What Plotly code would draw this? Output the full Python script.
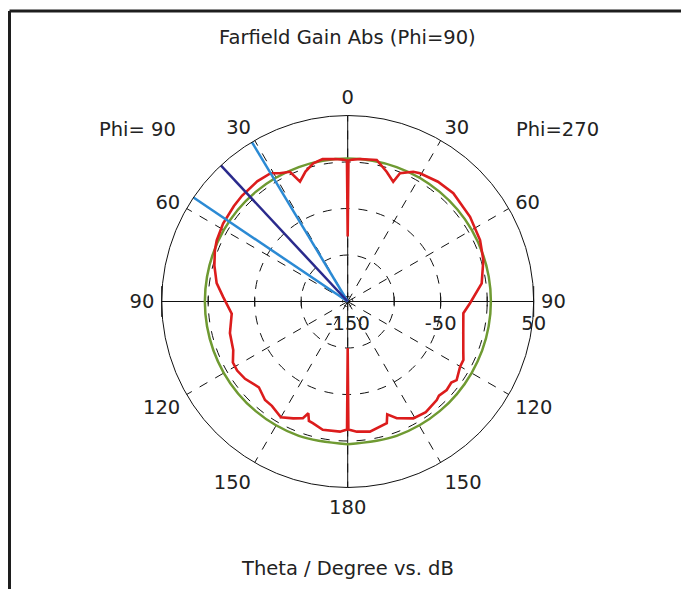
import numpy as np
import plotly.graph_objects as go

# Polar cut of the farfield gain, theta in degrees, gain in dB
theta_phi90 = [0, 0.3, 2, 5, 10, 14, 18, 21.7, 24, 28, 31, 37, 45, 50, 58, 65, 69, 75,
               82, 88, 96, 105, 113, 118, 122, 127, 134, 140, 144, 150, 155, 159,
               160.6, 162, 164, 169, 176.6, 179.7, 180]
gain_phi90 = [-80, 1.5, 2.7, 3.8, 5.5, 3.1, -3.1, -11.3, 2.7, 6.1, 10.9, 11.7, 10.8,
              9.7, 8.0, 5.4, 3.0, -1.6, -7.7, -16.1, -24.6, -18.9, -16.3, -10.2, -9.8,
              -11.8, -17.2, -11.7, -11.3, -6.3, -11.3, -15.6, -22.6, -15.0, -13.9,
              -9.4, -9.8, -12.4, -100]

theta_phi270 = [0, 0.3, 2, 5, 11.6, 16.7, 20.8, 22.2, 26.8, 29.4, 37, 44.3, 55.3, 65.1,
                73, 82.3, 90.8, 95.8, 105.4, 112.8, 116.8, 120.1, 125.8, 128, 131.8,
                135.9, 137.9, 144.8, 150.7, 157.2, 160.7, 162.2, 170.3, 176, 179.7, 180]
gain_phi270 = [-80, 1.5, 2.7, 3.8, 5.3, -4.3, -12.2, -1.1, 6.3, 8.3, 11.3, 12.6, 10.0,
               6.9, 2.5, -4.6, -18.5, -25.0, -21.1, -15.2, -10.6, -10.3, -5.6, -8.6,
               -7.2, -9.0, -7.2, -4.3, -5.9, -13.8, -21.4, -12.5, -8.1, -9.7, -12.4, -100]

# Reference curve (nearly isotropic)
theta_ref = [0, 20, 40, 60, 80, 100, 120, 140, 160, 180]
gain_ref_phi90 = [3.8, 3.8, 3.9, 3.8, 3.6, 3.6, 3.8, 3.9, 3.7, 3.4]
gain_ref_phi270 = [3.8, 3.8, 3.9, 4.0, 4.0, 3.9, 3.8, 3.9, 3.7, 3.4]

# Main lobe direction and 3 dB beam edges (theta, Phi=90 side)
main_lobe_dir = 43
beam_edges = [31, 56]

# Axis settings
r_min, r_max = -150, 50
r_ticks = [-100, -50, 0, 50]
r_labels = [-150, -50, 50]
ang_vals = list(range(0, 360, 30))
ang_text = ["0", "30", "60", "90", "120", "150", "180", "150", "120", "90", "60", "30"]

RED = "#dc1c1c"
GREEN = "#6f9a32"
NAVY = "#2a2a8c"
LIGHTBLUE = "#2b8ad4"
INK = "#222"
FONT = "DejaVu Sans"
FSIZE = 19.5


def full_cut(th_left, g_left, th_right, g_right):
    """Join Phi=90 (left half) and Phi=270 (right half) into one closed polar curve."""
    th = list(th_left) + [360 - t for t in reversed(th_right)]
    g = list(g_left) + list(reversed(g_right))
    return th, g


fig = go.Figure()

# axis lines through the centre
fig.add_trace(go.Scatterpolar(r=[r_max, r_min, r_max], theta=[0, 0, 180], mode="lines",
                              line=dict(color="#111", width=1), hoverinfo="skip"))
fig.add_trace(go.Scatterpolar(r=[r_max, r_min, r_max], theta=[90, 90, 270], mode="lines",
                              line=dict(color="#111", width=1), hoverinfo="skip"))

# small ring at the origin
ring_t = np.arange(0, 361, 10)
fig.add_trace(go.Scatterpolar(r=[r_min + 5.5] * len(ring_t), theta=ring_t, mode="lines",
                              line=dict(color="#111", width=1, dash="dot"), hoverinfo="skip"))

# ticks along the horizontal axis
tick_r = r_ticks[:-1] * 2
tick_t = [90] * (len(r_ticks) - 1) + [270] * (len(r_ticks) - 1)
fig.add_trace(go.Scatterpolar(r=tick_r, theta=tick_t, mode="markers",
                              marker=dict(symbol="line-ns", size=7,
                                          line=dict(color="#111", width=1)),
                              hoverinfo="skip"))
fig.add_trace(go.Scatterpolar(r=[r_max, r_max], theta=[90, 270], mode="markers",
                              marker=dict(symbol="line-ns", size=22,
                                          line=dict(color="#111", width=1)),
                              hoverinfo="skip"))

# reference curve
th, g = full_cut(theta_ref, gain_ref_phi90, theta_ref, gain_ref_phi270)
fig.add_trace(go.Scatterpolar(r=g, theta=th, mode="lines",
                              line=dict(color=GREEN, width=2.5, shape="spline"),
                              hoverinfo="skip"))

# simulated gain
th, g = full_cut(theta_phi90, gain_phi90, theta_phi270, gain_phi270)
fig.add_trace(go.Scatterpolar(r=g, theta=th, mode="lines",
                              line=dict(color=RED, width=2.6), hoverinfo="skip"))

# main lobe and 3 dB beam width markers
for t in beam_edges:
    fig.add_trace(go.Scatterpolar(r=[r_min, r_max], theta=[t, t], mode="lines",
                                  line=dict(color=LIGHTBLUE, width=2.5), hoverinfo="skip"))
fig.add_trace(go.Scatterpolar(r=[r_min, r_max], theta=[main_lobe_dir, main_lobe_dir],
                              mode="lines", line=dict(color=NAVY, width=2.5),
                              hoverinfo="skip"))

# radial scale labels under the horizontal axis
fig.add_trace(go.Scatterpolar(r=r_labels, theta=[270] * len(r_labels), mode="markers+text",
                              text=[str(v) for v in r_labels], textposition="bottom center",
                              textfont=dict(family=FONT, size=FSIZE, color=INK),
                              marker=dict(size=20, color="rgba(0,0,0,0)"),
                              cliponaxis=False, hoverinfo="skip"))

W, H = 681, 589
cx, cy, R = 347.7, 301.5, 186


def label(text, x, y):
    return dict(text=text, x=x / W, y=1 - y / H, xref="paper", yref="paper",
                xanchor="center", yanchor="middle", showarrow=False,
                font=dict(family=FONT, size=FSIZE, color=INK))


fig.update_layout(
    width=W, height=H,
    margin=dict(l=0, r=0, t=0, b=0),
    paper_bgcolor="white",
    showlegend=False,
    polar=dict(
        domain=dict(x=[(cx - R) / W, (cx + R) / W],
                    y=[(H - cy - R) / H, (H - cy + R) / H]),
        bgcolor="white",
        angularaxis=dict(rotation=90, direction="counterclockwise",
                         tickmode="array", tickvals=ang_vals, ticktext=ang_text,
                         showline=True, linecolor="#111", linewidth=1,
                         showgrid=True, gridcolor="#111", gridwidth=1, griddash="dash",
                         ticks="outside", ticklen=3, tickcolor="rgba(0,0,0,0)",
                         tickfont=dict(family=FONT, size=FSIZE, color=INK)),
        radialaxis=dict(range=[r_min, r_max], tickmode="array", tickvals=r_ticks,
                        showticklabels=False, showline=False, ticks="",
                        showgrid=True, gridcolor="#111", gridwidth=1, griddash="dash"),
    ),
    annotations=[
        label("Farfield Gain Abs (Phi=90)", cx, 38),
        label("Phi= 90", 137, 130),
        label("Phi=270", 557, 130),
        label("Theta / Degree vs. dB", cx, 568),
    ],
    shapes=[
        dict(type="line", xref="paper", yref="paper", x0=9.5 / W, x1=1.01,
             y0=1 - 11 / H, y1=1 - 11 / H, line=dict(color="#1e1e1e", width=3)),
        dict(type="line", xref="paper", yref="paper", x0=9.5 / W, x1=9.5 / W,
             y0=1 - 11 / H, y1=-0.02, line=dict(color="#1e1e1e", width=3)),
    ],
)

fig.write_html("out.html")
